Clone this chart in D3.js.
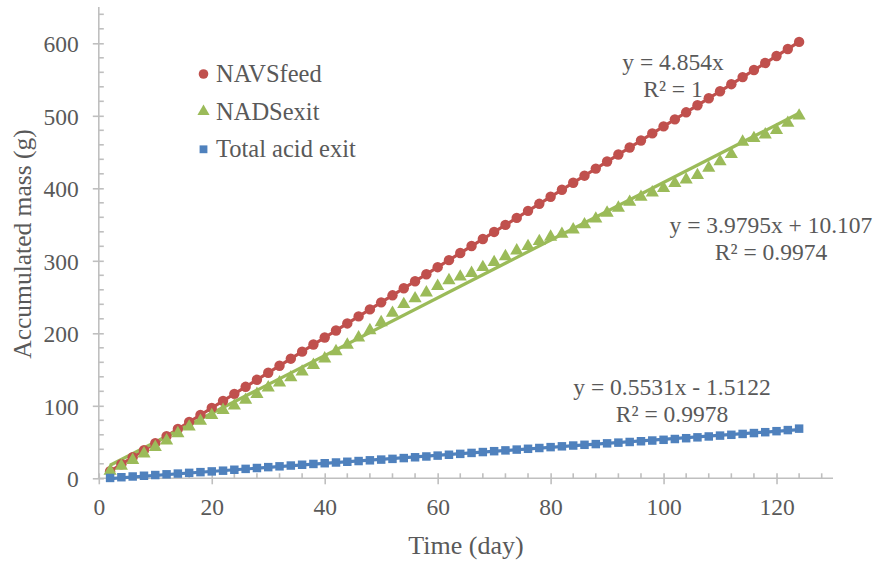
<!DOCTYPE html>
<html>
<head>
<meta charset="utf-8">
<script src="https://cdn.jsdelivr.net/npm/d3@7"></script>
<style>
  html, body { margin: 0; padding: 0; background: #fff; }
  svg { display: block; font-family: "Liberation Serif", "Times New Roman", serif; }
</style>
</head>
<body>
<svg id="chart" width="878" height="563"></svg>
<script>
// Sampling days (every 2 days)
const days = [2,4,6,8,10,12,14,16,18,20,22,24,26,28,30,32,34,36,38,40,42,44,46,48,50,52,54,56,58,60,
  62,64,66,68,70,72,74,76,78,80,82,84,86,88,90,92,94,96,98,100,102,104,106,108,110,112,114,116,118,120,122,124];

// Accumulated mass (g)
const navsFeed = [9.7,19.4,29.1,38.8,48.5,58.2,68.0,77.7,87.4,97.1,106.8,116.5,126.2,135.9,145.6,155.3,165.0,174.7,184.5,194.2,
  203.9,213.6,223.3,233.0,242.7,252.4,262.1,271.8,281.5,291.2,300.9,310.7,320.4,330.1,339.8,349.5,359.2,368.9,378.6,388.3,
  398.0,407.7,417.4,427.2,436.9,446.6,456.3,466.0,475.7,485.4,495.1,504.8,514.5,524.2,533.9,543.6,553.4,563.1,572.8,582.5,592.2,601.9];

const nadsExit = [10,17,25,34,43,52,62,71,79,87,94,100,108,116,125,132,139,147,156,165,
  175,184,194,204,215,228,240,248,256,265,273,278,283,291,298,306,314,320,327,333,
  337,343,350,358,366,373,381,388,394,400,407,412,418,428,437,447,464,469,474,480,490,500];

const totalAcidExit = [0.5,1.5,2.5,3.5,4.5,5.5,6.5,7.5,8.5,9.5,10.5,11.8,13.0,14.2,15.4,16.5,17.6,18.7,19.8,20.8,
  21.8,22.8,23.8,24.8,25.8,26.8,27.9,29.0,30.1,31.3,32.5,33.7,35.0,36.2,37.4,38.5,39.6,40.7,41.8,43.0,
  44.1,45.2,46.2,47.2,48.2,49.2,50.1,51.1,52.1,53.1,54.2,55.3,56.5,57.7,58.9,60.0,61.2,62.4,63.6,65.0,66.5,68.5];

// Linear trendlines: [slope, intercept]
const fitNavs = [4.854, 0];
const fitNads = [3.9795, 10.107];
const fitTotal = [0.5531, -1.5122];

const seriesNames = ["NAVSfeed", "NADSexit", "Total acid exit"];
const eqLabels = [["y = 4.854x", "R² = 1"], ["y = 3.9795x + 10.107", "R² = 0.9974"], ["y = 0.5531x - 1.5122", "R² = 0.9978"]];

const xTicks = [0,20,40,60,80,100,120];
const yTicks = [0,100,200,300,400,500,600];

const colors = ["#C0504D", "#9BBB59", "#4F81BD"];
const axisColor = "#BFBFBF";
const textColor = "#595959";

const svg = d3.select("#chart");
const x = d3.scaleLinear().domain([0, 130]).range([98.8, 833]);
const y = d3.scaleLinear().domain([0, 650]).range([478.3, 7.05]);

// Minor ticks (drawn inside the plot)
const xMinor = d3.range(0, 131, 4).filter(v => v % 20 !== 0);
const yMinor = d3.range(0, 651, 20).filter(v => v % 100 !== 0);

const gx = svg.append("g").attr("transform", `translate(0,${y(0)})`);
gx.call(d3.axisBottom(x).tickValues(xTicks).tickSize(5).tickPadding(15).tickSizeOuter(0));
gx.selectAll(".tick line").attr("y1", -5).attr("y2", 6);
gx.call(g => g.select(".domain").attr("d", `M${x(0) - 1},0H${x(130)}`));
gx.selectAll(".tick text").attr("font-size", 23.5).attr("fill", textColor).attr("font-family", "Liberation Serif").attr("dy", "0.71em");
gx.selectAll(".minor").data(xMinor).join("line").attr("class", "minor")
  .attr("x1", d => x(d)).attr("x2", d => x(d)).attr("y1", 0).attr("y2", -5);

const gy = svg.append("g").attr("transform", `translate(${x(0)},0)`);
gy.call(d3.axisLeft(y).tickValues(yTicks).tickSize(6).tickPadding(14).tickSizeOuter(0));
gy.selectAll(".tick line").attr("x1", -6).attr("x2", 5);
gy.call(g => g.select(".domain").attr("d", `M0,${y(650)}V${y(0)}`));
gy.selectAll(".tick text").attr("font-size", 23.5).attr("fill", textColor).attr("font-family", "Liberation Serif").attr("dy", "0.35em");
gy.selectAll(".minor").data(yMinor).join("line").attr("class", "minor")
  .attr("y1", d => y(d)).attr("y2", d => y(d)).attr("x1", 0).attr("x2", 5);

svg.selectAll(".domain, .tick line, .minor").attr("stroke", axisColor).attr("stroke-width", 1.6);

// Axis titles
svg.append("text").attr("x", 466).attr("y", 554).attr("text-anchor", "middle")
  .attr("font-size", 26).attr("fill", textColor).text("Time (day)");
svg.append("text").attr("transform", "translate(31,244) rotate(-90)").attr("text-anchor", "middle")
  .attr("font-size", 25.5).attr("fill", textColor).text("Accumulated mass (g)");

// Trendlines
const fits = [fitNavs, fitNads, fitTotal];
const line = d3.line().x(d => x(d[0])).y(d => y(d[1]));
fits.forEach((f, i) => {
  const x0 = d3.min(days), x1 = d3.max(days);
  svg.append("path").attr("d", line([[x0, f[0] * x0 + f[1]], [x1, f[0] * x1 + f[1]]]))
    .attr("stroke", colors[i]).attr("stroke-width", 3.2).attr("fill", "none");
});

// Markers
const sym = [d3.symbolCircle, d3.symbolTriangle, d3.symbolSquare];
const symSize = [85, 75, 72];
const allSeries = [navsFeed, nadsExit, totalAcidExit];
allSeries.forEach((vals, i) => {
  svg.append("g").selectAll("path").data(days.map((d, k) => [d, vals[k]])).join("path")
    .attr("transform", d => `translate(${x(d[0])},${y(d[1])})`)
    .attr("d", d3.symbol().type(sym[i]).size(symSize[i]))
    .attr("fill", colors[i]);
});

// Legend
const legendY = [74, 111.5, 149.3];
seriesNames.forEach((name, i) => {
  svg.append("path").attr("transform", `translate(203.5,${legendY[i]})`)
    .attr("d", d3.symbol().type(sym[i]).size(symSize[i] * 0.85)).attr("fill", colors[i]);
  svg.append("text").attr("x", 216).attr("y", legendY[i] + 8).attr("font-size", 24.5)
    .attr("fill", textColor).text(name);
});

// Trendline equations
const eqPos = [[673, 70], [771, 233], [672, 395]];
eqLabels.forEach((lines, i) => {
  lines.forEach((t, j) => {
    svg.append("text").attr("x", eqPos[i][0]).attr("y", eqPos[i][1] + j * 26.5)
      .attr("text-anchor", "middle").attr("font-size", 23.5).attr("fill", textColor).text(t);
  });
});
</script>
</body>
</html>
